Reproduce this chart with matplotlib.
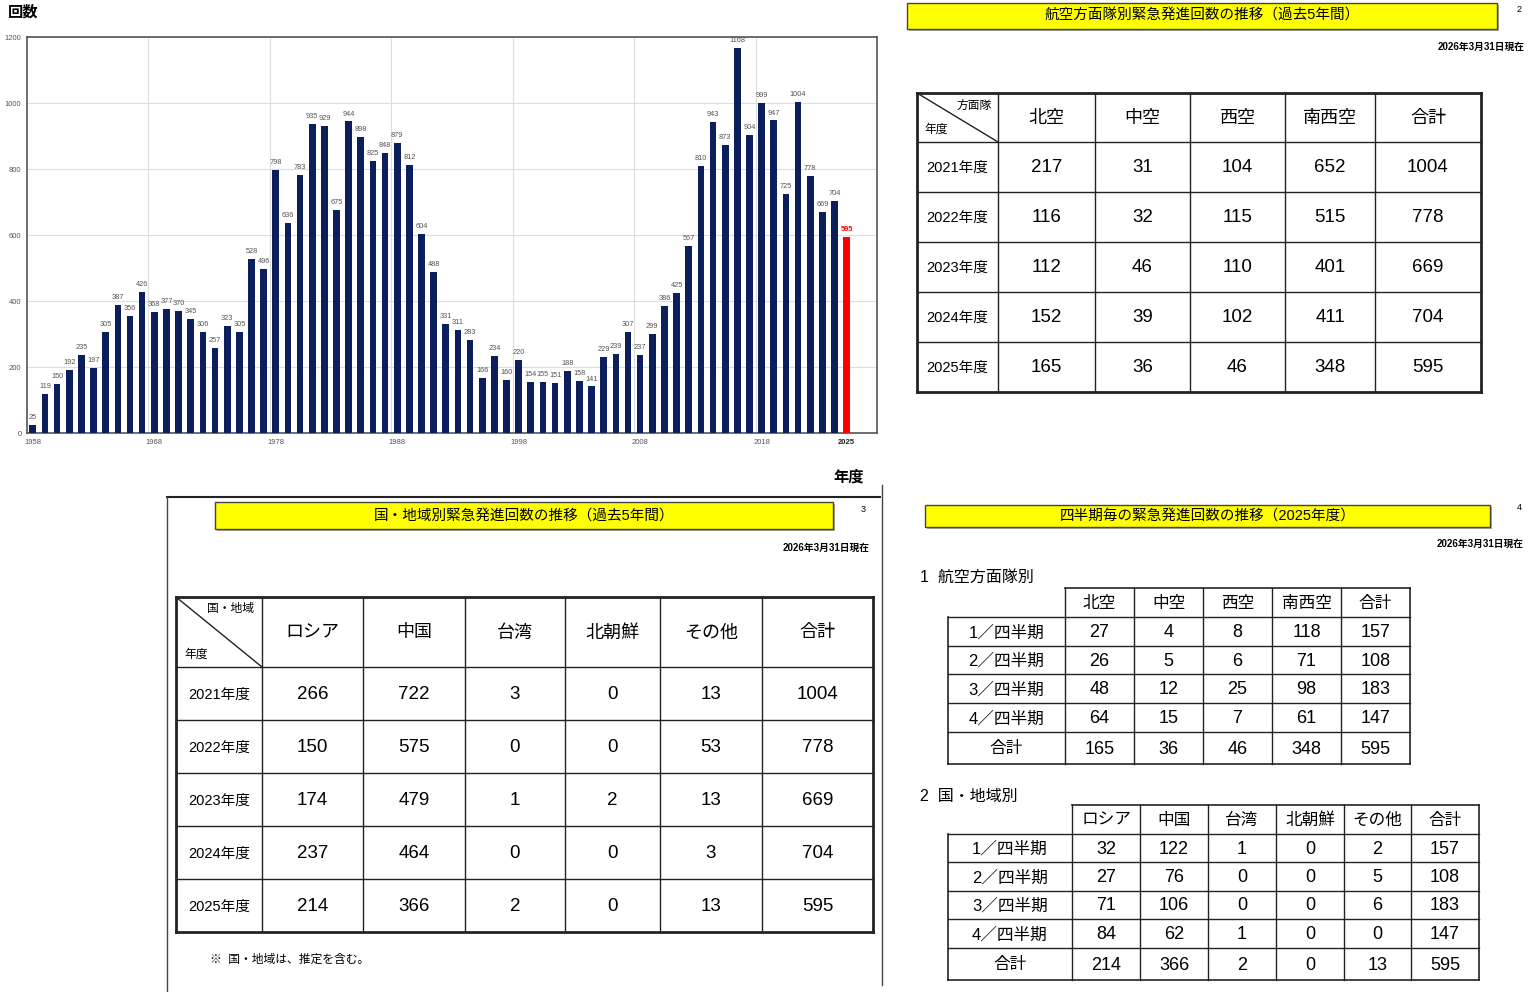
import matplotlib
matplotlib.use("Agg")
import matplotlib.pyplot as plt
from matplotlib.patches import Rectangle

plt.rcParams['font.family'] = ['Liberation Sans', 'Noto Sans CJK JP', 'DejaVu Sans']

# ---- data ----
years = list(range(1958, 2026))
scrambles = [25, 119, 150, 192, 235, 197, 305, 387, 356, 426,
             368, 377, 370, 345, 306, 257, 323, 305, 528, 496,
             798, 636, 783, 935, 929, 675, 944, 898, 825, 848,
             879, 812, 604, 488, 331, 311, 283, 166, 234, 160,
             220, 154, 155, 151, 188, 158, 141, 229, 239, 307,
             237, 299, 386, 425, 567, 810, 943, 873, 1168, 904,
             999, 947, 725, 1004, 778, 669, 704, 595]
tick_years = [1958, 1968, 1978, 1988, 1998, 2008, 2018, 2025]

fiscal_years = ['2021年度', '2022年度', '2023年度', '2024年度', '2025年度']
units = ['北空', '中空', '西空', '南西空', '合計']
unit_north = [217, 116, 112, 152, 165]
unit_central = [31, 32, 46, 39, 36]
unit_west = [104, 115, 110, 102, 46]
unit_southwest = [652, 515, 401, 411, 348]
unit_total = [1004, 778, 669, 704, 595]

countries = ['ロシア', '中国', '台湾', '北朝鮮', 'その他', '合計']
c_russia = [266, 150, 174, 237, 214]
c_china = [722, 575, 479, 464, 366]
c_taiwan = [3, 0, 1, 0, 2]
c_nkorea = [0, 0, 2, 0, 0]
c_other = [13, 53, 13, 3, 13]
c_total = [1004, 778, 669, 704, 595]

quarters = ['1／四半期', '2／四半期', '3／四半期', '4／四半期', '合計']
q_north = [27, 26, 48, 64, 165]
q_central = [4, 5, 12, 15, 36]
q_west = [8, 6, 25, 7, 46]
q_southwest = [118, 71, 98, 61, 348]
q_unit_total = [157, 108, 183, 147, 595]

q_russia = [32, 27, 71, 84, 214]
q_china = [122, 76, 106, 62, 366]
q_taiwan = [1, 0, 0, 1, 2]
q_nkorea = [0, 0, 0, 0, 0]
q_other = [2, 5, 6, 0, 13]
q_total = [157, 108, 183, 147, 595]

W, H = 1536, 992
fig = plt.figure(figsize=(W / 100, H / 100), dpi=100)

# full-figure overlay in pixel coordinates
bg = fig.add_axes([0, 0, 1, 1])
bg.set_xlim(0, W)
bg.set_ylim(H, 0)
bg.axis('off')

# ---- bar chart ----
ax = fig.add_axes([27 / W, 1 - 433 / H, 850 / W, 396 / H])
colors = ['#0b1f5c'] * (len(years) - 1) + ['#ff0000']
ax.bar(years, scrambles, width=0.55, color=colors, zorder=3)
for yr, v in zip(years, scrambles):
    last = yr == years[-1]
    ax.text(yr, v + 12, str(v), ha='center', va='bottom', fontsize=5.3,
            color='#ff0000' if last else '#555555',
            fontweight='bold' if last else 'normal', zorder=4)
ax.set_xlim(1957.52, 2025.56)
ax.set_ylim(0, 1200)
ax.set_yticks(range(0, 1201, 200))
ax.set_xticks(tick_years)
ax.set_xticks([y + 9.5 for y in range(1958, 2020, 10)], minor=True)
ax.tick_params(axis='both', which='both', length=0, labelsize=5.5, labelcolor='#555555', pad=4)
ax.grid(axis='y', color='#dddddd', lw=0.8, zorder=0)
ax.grid(axis='x', which='minor', color='#dddddd', lw=0.8, zorder=0)
for lbl in ax.get_xticklabels():
    if lbl.get_text() == '2025':
        lbl.set_fontweight('bold')
        lbl.set_color('#222222')
for s in ax.spines.values():
    s.set_color('#555555')
    s.set_linewidth(1.2)

bg.text(8, 12, '回数', fontsize=11, fontweight='bold', ha='left', va='center')
bg.text(849, 477, '年度', fontsize=11, fontweight='bold', ha='center', va='center')


def title_box(x0, x1, y0, y1, text, num, numx, numy, datex, datey):
    bg.add_patch(Rectangle((x0 + 2, y0 + 2), x1 - x0, y1 - y0, fc='#aaaaaa', ec='none'))
    bg.add_patch(Rectangle((x0, y0), x1 - x0, y1 - y0, fc='#ffff00', ec='#444444', lw=1))
    bg.text((x0 + x1) / 2, (y0 + y1) / 2, text, ha='center', va='center', fontsize=10.5)
    bg.text(numx, numy, num, ha='center', va='center', fontsize=6.5)
    bg.text(datex, datey, '2026年3月31日現在', ha='right', va='center', fontsize=7, fontweight='bold')


def grid_lines(xs, ys, outer, inner, skip_topleft=False):
    for i, x in enumerate(xs):
        lw = outer if i in (0, len(xs) - 1) else inner
        top = ys[1] if (skip_topleft and i == 0) else ys[0]
        bg.plot([x, x], [top, ys[-1]], color='#222222', lw=lw, solid_capstyle='projecting')
    for j, y in enumerate(ys):
        lw = outer if j in (0, len(ys) - 1) else inner
        left = xs[1] if (skip_topleft and j == 0) else xs[0]
        bg.plot([left, xs[-1]], [y, y], color='#222222', lw=lw, solid_capstyle='projecting')


def fill_cells(xs, ys, header, rows, cols, hsize, rsize, nsize):
    for i, h in enumerate(header):
        bg.text((xs[i + 1] + xs[i + 2]) / 2, (ys[0] + ys[1]) / 2 + 1, h,
                ha='center', va='center', fontsize=hsize)
    for j, r in enumerate(rows):
        cy = (ys[j + 1] + ys[j + 2]) / 2 + 1
        bg.text((xs[0] + xs[1]) / 2, cy, r, ha='center', va='center', fontsize=rsize)
        for i, col in enumerate(cols):
            bg.text((xs[i + 1] + xs[i + 2]) / 2, cy, str(col[j]),
                    ha='center', va='center', fontsize=nsize)


# ---- table: air defense force (top right) ----
title_box(907, 1497, 3, 29, '航空方面隊別緊急発進回数の推移（過去5年間）', '2', 1519, 10, 1525, 47)
xs1 = [917, 998, 1095, 1190, 1285, 1375, 1481]
ys1 = [93, 142, 192, 242, 292, 342, 392]
grid_lines(xs1, ys1, 2.0, 1.0)
bg.plot([xs1[0], xs1[1]], [ys1[0], ys1[1]], color='#222222', lw=1)
bg.text(992, 106, '方面隊', ha='right', va='center', fontsize=8.5)
bg.text(924, 130, '年度', ha='left', va='center', fontsize=8.5)
fill_cells(xs1, ys1, units, fiscal_years,
           [unit_north, unit_central, unit_west, unit_southwest, unit_total], 13, 10.5, 13.5)

# ---- table: country (bottom left) ----
bg.plot([167, 880], [497, 497], color='#222222', lw=1.5)
bg.plot([167, 167], [497, 992], color='#444444', lw=1)
bg.plot([882, 882], [485, 985], color='#444444', lw=1)
title_box(215, 833, 502, 529, '国・地域別緊急発進回数の推移（過去5年間）', '3', 863, 509, 870, 548)
xs2 = [176, 262, 363, 465, 565, 660, 762, 873]
ys2 = [597, 667, 720, 773, 826, 879, 932]
grid_lines(xs2, ys2, 2.0, 1.0)
bg.plot([xs2[0], xs2[1]], [ys2[0], ys2[1]], color='#222222', lw=1)
bg.text(254, 609, '国・地域', ha='right', va='center', fontsize=8.5)
bg.text(184, 655, '年度', ha='left', va='center', fontsize=8.5)
fill_cells(xs2, ys2, countries, fiscal_years,
           [c_russia, c_china, c_taiwan, c_nkorea, c_other, c_total], 13, 10.5, 13.5)
bg.text(210, 960, '※  国・地域は、推定を含む。', ha='left', va='center', fontsize=8.5)

# ---- quarterly tables (bottom right) ----
title_box(925, 1490, 505, 527, '四半期毎の緊急発進回数の推移（2025年度）', '4', 1519, 508, 1524, 544)
bg.text(920, 577, '1  航空方面隊別', ha='left', va='center', fontsize=11.5)
xs3 = [948, 1065, 1134, 1203, 1272, 1341, 1410]
ys3 = [588, 617, 646, 674, 703, 732, 764]
grid_lines(xs3, ys3, 1.2, 1.0, skip_topleft=True)
fill_cells(xs3, ys3, units, quarters,
           [q_north, q_central, q_west, q_southwest, q_unit_total], 12, 12, 13)

bg.text(920, 796, '2  国・地域別', ha='left', va='center', fontsize=11.5)
xs4 = [948, 1072, 1140, 1208, 1276, 1344, 1411, 1479]
ys4 = [805, 834, 862, 891, 919, 948, 980]
grid_lines(xs4, ys4, 1.2, 1.0, skip_topleft=True)
fill_cells(xs4, ys4, countries, quarters,
           [q_russia, q_china, q_taiwan, q_nkorea, q_other, q_total], 12, 12, 13)

fig.savefig('out.png', dpi=100)
